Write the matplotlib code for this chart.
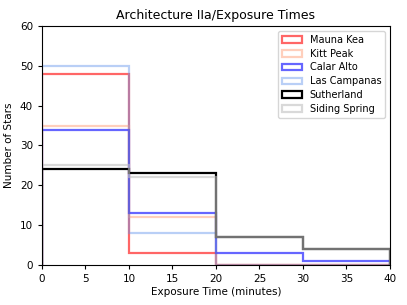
import matplotlib
matplotlib.use("Agg")
import matplotlib.pyplot as plt
import numpy as np

bin_edges = [0, 10, 20, 30, 40]
sites = ["Mauna Kea", "Kitt Peak", "Calar Alto", "Las Campanas", "Sutherland", "Siding Spring"]
mauna_kea = [48, 3, 0, 0]
kitt_peak = [35, 12, 0, 0]
calar_alto = [34, 13, 3, 1]
las_campanas = [50, 8, 0, 0]
sutherland = [24, 23, 7, 4]
siding_spring = [25, 22, 7, 4]
series = [mauna_kea, kitt_peak, calar_alto, las_campanas, sutherland, siding_spring]
colors = ["red", "lightsalmon", "blue", "cornflowerblue", "black", "silver"]
alphas = [0.6, 0.5, 0.6, 0.45, 1.0, 0.6]

fig = plt.figure(figsize=(4.07, 3.05), dpi=100)
ax = fig.add_axes([0.103, 0.131, 0.855, 0.784])
centers = [(bin_edges[i] + bin_edges[i + 1]) / 2 for i in range(len(bin_edges) - 1)]
for name, vals, c, a in zip(sites, series, colors, alphas):
    ax.hist(centers, bins=bin_edges, weights=vals, histtype="step", color=c,
            alpha=a, linewidth=1.6, label=name)

ax.set_xlim(0, 40)
ax.set_ylim(0, 60)
ax.set_xticks([0, 5, 10, 15, 20, 25, 30, 35, 40])
ax.set_yticks([0, 10, 20, 30, 40, 50, 60])
ax.tick_params(labelsize=7.5, length=3)
ax.set_xlabel("Exposure Time (minutes)", fontsize=7.5, labelpad=2)
ax.set_ylabel("Number of Stars", fontsize=7.5)
ax.set_title("Architecture IIa/Exposure Times", fontsize=9, pad=5)
ax.legend(loc="upper right", fontsize=7.0, handlelength=2.0, borderpad=0.4,
          labelspacing=0.4)
fig.savefig("out.png", dpi=100)
